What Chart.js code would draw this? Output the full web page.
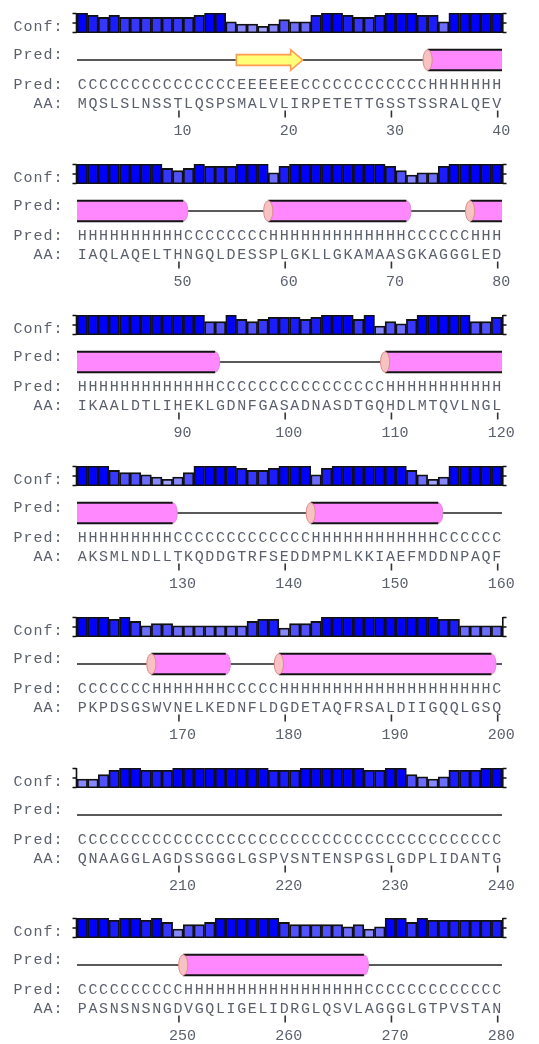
<!DOCTYPE html>
<html><head><meta charset="utf-8">
<script src="https://cdn.jsdelivr.net/npm/chart.js@4.4.0/dist/chart.umd.min.js"></script>
<style>
html,body{margin:0;padding:0;background:#fff;overflow:hidden;width:539px;height:1044px;}
canvas{position:absolute;left:0;}
</style></head><body>
<script>
// ---- data ----
const aaRows = [
  "MQSLSLNSSTLQSPSMALVLIRPETETTGSSTSSRALQEV",
  "IAQLAQELTHNGQLDESSPLGKLLGKAMAASGKAGGGLED",
  "IKAALDTLIHEKLGDNFGASADNASDTGQHDLMTQVLNGL",
  "AKSMLNDLLTKQDDGTRFSEDDMPMLKKIAEFMDDNPAQF",
  "PKPDSGSWVNELKEDNFLDGDETAQFRSALDIIGQQLGSQ",
  "QNAAGGLAGDSSGGGLGSPVSNTENSPGSLGDPLIDANTG",
  "PASNSNSNGDVGQLIGELIDRGLQSVLAGGGLGTPVSTAN"
];
const predRows = [
  "CCCCCCCCCCCCCCC" + "EEEEEE" + "CCCCCCCCCCCC" + "HHHHHHH",
  "HHHHHHHHHH" + "CCCCCCCC" + "HHHHHHHHHHHHH" + "CCCCCC" + "HHH",
  "HHHHHHHHHHHHH" + "CCCCCCCCCCCCCCCC" + "HHHHHHHHHHH",
  "HHHHHHHHH" + "CCCCCCCCCCCCC" + "HHHHHHHHHHHH" + "CCCCCC",
  "CCCCCCC" + "HHHHHHH" + "CCCCC" + "HHHHHHHHHHHHHHHHHHHH" + "C",
  "CCCCCCCCCCCCCCCCCCCCCCCCCCCCCCCCCCCCCCCC",
  "CCCCCCCCCC" + "HHHHHHHHHHHHHHHHH" + "CCCCCCCCCCCCC"
];
const conf1 = [9,8,7,8,7,7,7,7,7,7,7,8,9,9,5,4,4,3,4,6,5,5,8,9,9,8,7,7,8,9,9,9,8,8,5,9,9,9,9,9];
const conf2 = [9,9,9,9,9,9,9,9,7,6,7,9,8,8,8,9,9,9,5,8,9,9,9,9,9,9,9,9,9,8,6,4,5,5,8,9,9,9,9,9];
const conf3 = [9,9,9,9,9,9,9,9,9,9,9,9,6,6,9,7,6,7,8,8,8,7,8,9,9,9,7,9,4,6,5,7,9,9,9,9,9,6,6,8];
const conf4 = [9,9,9,7,6,6,5,4,3,4,6,9,9,9,9,8,7,7,8,9,9,9,5,8,9,9,9,9,9,9,9,7,5,3,4,9,9,9,9,9];
const conf5 = [9,9,9,8,9,7,5,6,6,5,5,5,5,5,5,5,7,8,8,4,6,6,7,9,9,9,9,9,9,9,9,9,9,9,8,8,5,5,5,5];
const conf6 = [4,4,6,8,9,9,8,8,8,9,9,9,9,9,9,9,9,9,8,8,8,9,9,9,9,9,9,8,8,9,9,6,5,4,5,8,8,8,9,9];
const conf7 = [9,9,9,8,9,9,8,9,7,4,6,6,7,9,9,9,9,9,9,7,6,6,6,6,6,5,6,4,5,9,9,7,9,8,8,8,8,8,8,8];
const confRows = [conf1, conf2, conf3, conf4, conf5, conf6, conf7];
const tickLabels = [10,20,30,40,50,60,70,80,90,100,110,120,130,140,150,160,170,180,190,200,
                    210,220,230,240,250,260,270,280];

// ---- layout / style ----
const CW = 539, CH = 142, STEP = 150.9;
const PLOT_L = 77, PLOT_R = 502, BAR_TOP = 13, BAR_H = 20;
const FONT = '15px "Liberation Mono", "DejaVu Sans Mono", monospace';
const TXT = '#5a5f6c';

function confColor(v){
  const k = Math.max(0, Math.min(200, Math.round((9 - v) * 27)));
  return `rgb(${k},${k},255)`;
}

function drawMono(ctx, s, x, y){
  ctx.textAlign = 'center';
  for (let i = 0; i < s.length; i++) ctx.fillText(s[i], x + 5 + i * 10, y);
}

function drawHelix(ctx, x0, x1, capStart, roundEnd){
  const yc = 60, hh = 10.3, rx = 4.6;
  ctx.fillStyle = '#ff88ff';
  ctx.beginPath();
  ctx.moveTo(x0, yc - hh);
  ctx.lineTo(x1, yc - hh);
  if (roundEnd) ctx.ellipse(x1, yc, rx, hh, 0, -Math.PI/2, Math.PI/2);
  else ctx.lineTo(x1, yc + hh);
  ctx.lineTo(x0, yc + hh);
  ctx.closePath();
  ctx.fill();
  if (roundEnd){
    ctx.strokeStyle = '#d98fd0'; ctx.lineWidth = 1;
    ctx.beginPath(); ctx.ellipse(x1, yc, rx, hh, 0, -Math.PI/2, Math.PI/2); ctx.stroke();
  }
  ctx.strokeStyle = '#141414'; ctx.lineWidth = 2;
  ctx.beginPath();
  ctx.moveTo(x0, yc - hh); ctx.lineTo(x1, yc - hh);
  ctx.moveTo(x0, yc + hh); ctx.lineTo(x1, yc + hh);
  ctx.stroke();
  if (capStart){
    ctx.fillStyle = '#f8c2c2'; ctx.strokeStyle = '#d98c8c'; ctx.lineWidth = 1;
    ctx.beginPath(); ctx.ellipse(x0, yc, rx, hh, 0, 0, Math.PI*2); ctx.fill(); ctx.stroke();
  }
}

function drawStrand(ctx, x0, x1){
  const yc = 60, bh = 5.4, hh = 10.3, tip = x1 + 2.5, hb = tip - 12;
  ctx.fillStyle = '#ffff77'; ctx.strokeStyle = '#ff9a55'; ctx.lineWidth = 1.6;
  ctx.beginPath();
  ctx.moveTo(x0, yc - bh); ctx.lineTo(hb, yc - bh); ctx.lineTo(hb, yc - hh);
  ctx.lineTo(tip, yc); ctx.lineTo(hb, yc + hh); ctx.lineTo(hb, yc + bh);
  ctx.lineTo(x0, yc + bh); ctx.closePath();
  ctx.fill(); ctx.stroke();
}

function makePlugin(b){
  return {
    id: 'psipred' + b,
    afterDraw(chart){
      const ctx = chart.ctx, xs = chart.scales.x, ca = chart.chartArea;
      const n = aaRows[b].length;
      const w = (ca.right - ca.left) / n;
      const cx = j => xs.getPixelForValue(j);
      ctx.save();
      // brackets
      ctx.strokeStyle = '#111'; ctx.lineWidth = 1.6;
      const ym = (ca.top + ca.bottom) / 2;
      ctx.beginPath();
      ctx.moveTo(ca.left - 0.5, ca.top); ctx.lineTo(ca.left - 0.5, ca.bottom);
      [ca.top + 0.5, ym, ca.bottom - 0.5].forEach(y => { ctx.moveTo(ca.left - 0.5, y); ctx.lineTo(ca.left - 4.5, y); });
      ctx.moveTo(ca.right + 0.8, ca.top); ctx.lineTo(ca.right + 0.8, ca.bottom);
      [ca.top + 0.5, ym, ca.bottom - 0.5].forEach(y => { ctx.moveTo(ca.right + 0.8, y); ctx.lineTo(ca.right + 4.5, y); });
      ctx.stroke();
      // row labels
      ctx.font = FONT; ctx.fillStyle = TXT; ctx.textBaseline = 'alphabetic';
      drawMono(ctx, 'Conf:', 13, 31);
      drawMono(ctx, 'Pred:', 13, 59);
      drawMono(ctx, 'Pred:', 13, 89);
      drawMono(ctx, '  AA:', 13, 107.5);
      // coil line
      ctx.strokeStyle = '#222'; ctx.lineWidth = 1.5;
      ctx.beginPath(); ctx.moveTo(ca.left, 60); ctx.lineTo(ca.right, 60); ctx.stroke();
      // SS elements
      const p = predRows[b];
      let j = 0;
      while (j < n){
        const t = p[j]; let k = j;
        while (k + 1 < n && p[k + 1] === t) k++;
        const x0 = cx(j) - w / 2, x1 = cx(k) + w / 2;
        if (t === 'H'){
          const contPrev = j === 0 && b > 0 && predRows[b - 1][n - 1] === 'H';
          const contNext = k === n - 1 && b < predRows.length - 1 && predRows[b + 1][0] === 'H';
          drawHelix(ctx, x0, x1, !contPrev, !contNext);
        } else if (t === 'E'){
          drawStrand(ctx, x0, x1);
        }
        j = k + 1;
      }
      // sequence text
      ctx.font = FONT; ctx.fillStyle = TXT; ctx.textAlign = 'center';
      for (let i = 0; i < n; i++){
        ctx.fillText(p[i], cx(i), 89);
        ctx.fillText(aaRows[b][i], cx(i), 107.5);
      }
      // ticks
      const first = b * n + 1;
      tickLabels.filter(t => t >= first && t < first + n).forEach(t => {
        const x = cx(t - first) + 1;
        ctx.strokeStyle = '#333'; ctx.lineWidth = 1.6;
        ctx.beginPath(); ctx.moveTo(x, 110.5); ctx.lineTo(x, 117.5); ctx.stroke();
        ctx.fillStyle = TXT;
        ctx.fillText(String(t), x + 3.5, 135);
      });
      ctx.restore();
    }
  };
}

confRows.forEach((vals, b) => {
  const cv = document.createElement('canvas');
  cv.width = CW; cv.height = CH;
  cv.style.width = CW + 'px'; cv.style.height = CH + 'px';
  cv.style.top = Math.round(b * STEP) + 'px';
  document.body.appendChild(cv);
  const first = b * vals.length + 1;
  new Chart(cv, {
    type: 'bar',
    data: {
      labels: vals.map((v, i) => String(first + i)),
      datasets: [{
        data: vals,
        backgroundColor: c => confColor(c.raw),
        borderColor: '#111111',
        borderWidth: 1.8,
        borderSkipped: false,
        barPercentage: 1,
        categoryPercentage: 1
      }]
    },
    options: {
      responsive: false, animation: false, devicePixelRatio: 1, events: [],
      layout: { padding: { left: PLOT_L, right: CW - PLOT_R, top: BAR_TOP, bottom: CH - BAR_TOP - BAR_H } },
      scales: { x: { display: false }, y: { display: false, min: 0, max: 9 } },
      plugins: { legend: { display: false }, tooltip: { enabled: false } }
    },
    plugins: [makePlugin(b)]
  });
});
</script>
</body></html>
